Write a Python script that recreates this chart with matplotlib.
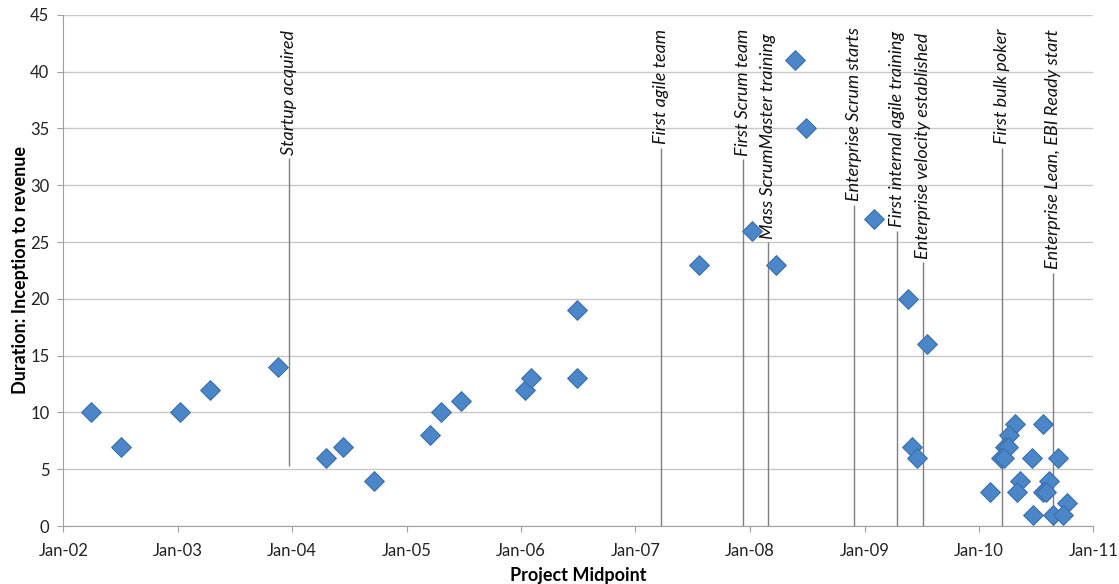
import numpy as np
import pandas as pd
import matplotlib
matplotlib.use("Agg")
import matplotlib.pyplot as plt
import matplotlib.dates as mdates

plt.rcParams['font.family'] = ['Lato', 'DejaVu Sans']

# project midpoints and durations (months)
midpoints = ['2002-03-30', '2002-07-04', '2003-01-09', '2003-04-15', '2003-11-18',
             '2004-04-17', '2004-06-13', '2004-09-18', '2005-03-17', '2005-04-19',
             '2005-06-22', '2006-01-13', '2006-02-03', '2006-06-28', '2006-06-28',
             '2007-07-22', '2008-01-09', '2008-03-23', '2008-05-25', '2008-06-28',
             '2009-01-30', '2009-05-19', '2009-07-18', '2009-06-02', '2009-06-19',
             '2010-02-05', '2010-04-25', '2010-07-24', '2010-04-08', '2010-03-25',
             '2010-04-03', '2010-03-12', '2010-03-21', '2010-06-18', '2010-09-11',
             '2010-05-11', '2010-08-12', '2010-05-04', '2010-07-24', '2010-08-02',
             '2010-10-09', '2010-06-23', '2010-08-26', '2010-09-27']
durations = [10, 7, 10, 12, 14,
             6, 7, 4, 8, 10,
             11, 12, 13, 19, 13,
             23, 26, 23, 41, 35,
             27, 20, 16, 7, 6,
             3, 9, 9, 8, 7,
             7, 6, 6, 6, 6,
             4, 4, 3, 3, 3,
             2, 1, 1, 1]

# milestone events
event_dates = ['2003-12-22', '2007-03-25', '2007-12-09', '2008-02-28', '2008-11-28',
               '2009-04-16', '2009-07-08', '2010-03-16', '2010-08-27']
event_labels = ['Startup acquired', 'First agile team', 'First Scrum team',
                'Mass ScrumMaster training', 'Enterprise Scrum starts',
                'First internal agile training', 'Enterprise velocity established',
                'First bulk poker', 'Enterprise Lean, EBI Ready start']
event_top = [32.4, 33.3, 32.3, 25.0, 28.3, 26.0, 23.2, 33.3, 22.3]
event_bottom = [5.3, 0, 0, 0, 0, 0, 0, 0, 0]

x = pd.to_datetime(midpoints)
ev = pd.to_datetime(event_dates)

fig = plt.figure(figsize=(11.19, 5.84), dpi=100)
ax = fig.add_axes([0.0566, 0.0993, 0.9204, 0.8752])

ax.set_xlim(pd.Timestamp('2002-01-01'), pd.Timestamp('2011-01-01'))
ax.set_ylim(0, 45)
ax.set_yticks(np.arange(0, 46, 5))
ax.xaxis.set_major_locator(mdates.YearLocator())
ax.xaxis.set_major_formatter(mdates.DateFormatter('%b-%y'))

ax.grid(axis='y', color='#c8c8c8', linewidth=1)
ax.set_axisbelow(True)
for s in ['top', 'right']:
    ax.spines[s].set_visible(False)
for s in ['left', 'bottom']:
    ax.spines[s].set_color('#a0a0a0')
ax.tick_params(axis='both', colors='#a0a0a0', labelcolor='#222222', labelsize=12, length=4)
ax.tick_params(axis='x', pad=8)
ax.tick_params(axis='y', pad=6)

# milestone lines and labels
ax.vlines(ev, event_bottom, event_top, color='#7f7f7f', linewidth=1, zorder=2)
for d, lab, top in zip(ev, event_labels, event_top):
    ax.text(d, top + 0.3, lab, rotation=90, ha='center', va='bottom',
            fontsize=13, style='italic', color='#111111', zorder=4)

ax.scatter(x, durations, marker='D', s=100, color='#4a86c8',
           edgecolors='#3a6fa8', linewidths=0.8, zorder=3)

ax.set_ylabel('Duration: Inception to revenue', fontsize=13, fontweight='bold', labelpad=1)
ax.set_xlabel('Project Midpoint', fontsize=13, fontweight='bold', labelpad=6)

fig.savefig('out.png', dpi=100)
plt.close(fig)
